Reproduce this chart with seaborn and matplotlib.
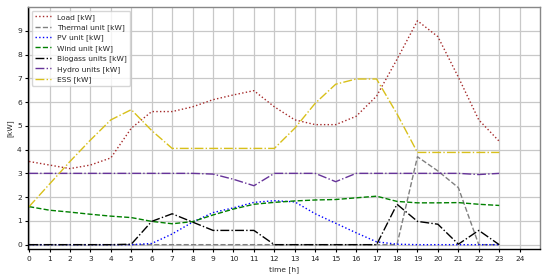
import numpy as np
import pandas as pd
import matplotlib
matplotlib.use("Agg")
import matplotlib.pyplot as plt
import seaborn as sns

hours = list(range(24))

load = [3.5, 3.35, 3.2, 3.35, 3.65, 4.9, 5.6, 5.6, 5.8, 6.1, 6.3, 6.48, 5.8, 5.25,
        5.05, 5.05, 5.4, 6.25, 7.8, 9.42, 8.75, 7.05, 5.25, 4.35]
thermal = [0, 0, 0, 0, 0, 0, 0, 0, 0, 0, 0, 0, 0, 0,
           0, 0, 0, 0, 0, 3.7, 3.1, 2.4, 0, 0]
pv = [0, 0, 0, 0, 0, 0, 0.05, 0.45, 0.95, 1.35, 1.55, 1.78, 1.85, 1.8,
      1.3, 0.9, 0.5, 0.12, 0.02, 0, 0, 0, 0, 0]
wind = [1.6, 1.45, 1.37, 1.28, 1.2, 1.14, 0.98, 0.88, 0.97, 1.25, 1.5, 1.7, 1.78, 1.84,
        1.88, 1.9, 1.97, 2.04, 1.82, 1.76, 1.76, 1.77, 1.7, 1.65]
biogass = [0, 0, 0, 0, 0, 0.02, 0.98, 1.3, 0.95, 0.6, 0.6, 0.6, 0, 0,
           0, 0, 0, 0, 1.7, 0.98, 0.86, 0.02, 0.6, 0]
hydro = [3, 3, 3, 3, 3, 3, 3, 3, 3, 2.97, 2.75, 2.48, 3, 3,
         3, 2.65, 3, 3, 3, 3, 3, 3, 2.95, 3]
ess = [1.6, 2.55, 3.5, 4.4, 5.25, 5.68, 4.8, 4.05, 4.05, 4.05, 4.05, 4.05, 4.05, 4.9,
       5.95, 6.75, 6.97, 6.97, 5.5, 3.88, 3.88, 3.88, 3.88, 3.88]

series = [
    ("Load [kW]", load, "brown", ":"),
    ("Thermal unit [kW]", thermal, "gray", "--"),
    ("PV unit [kW]", pv, "blue", ":"),
    ("Wind unit [kW]", wind, "green", "--"),
    ("Biogass units [kW]", biogass, "black", "-."),
    ("Hydro units [kW]", hydro, "rebeccapurple", "-."),
    ("ESS [kW]", ess, "#d8c01a", "-."),
]

sns.set_style("whitegrid")
plt.rcParams["font.family"] = ["DejaVu Sans"]

fig = plt.figure(figsize=(5.5, 2.79), dpi=100)
ax = fig.add_axes([0.051, 0.106, 0.931, 0.869])

for name, vals, col, ls in series:
    sns.lineplot(x=hours, y=vals, ax=ax, color=col, linestyle=ls, linewidth=1.0, label=name)

ax.set_xlim(-0.05, 25)
ax.set_ylim(-0.2, 10)
ax.set_xticks(range(25))
ax.set_yticks(range(10))
ax.tick_params(labelsize=5.4, length=2.5, color="black", left=True, bottom=True, pad=2)
ax.grid(True, color="#c8c8c8", linewidth=0.9)
for s in ["left", "bottom"]:
    ax.spines[s].set_color("black")
    ax.spines[s].set_linewidth(1.0)
for s in ["top", "right"]:
    ax.spines[s].set_color("#888888")
    ax.spines[s].set_linewidth(1.0)
ax.set_xlabel("time [h]", fontsize=5.4, labelpad=3)
ax.set_ylabel("[kW]", fontsize=5.4, labelpad=3)
ax.legend(loc="upper left", fontsize=5.4, frameon=True, handlelength=2.2,
          labelspacing=0.45, borderpad=0.4, handletextpad=0.8)

fig.savefig("out.png", dpi=100)
